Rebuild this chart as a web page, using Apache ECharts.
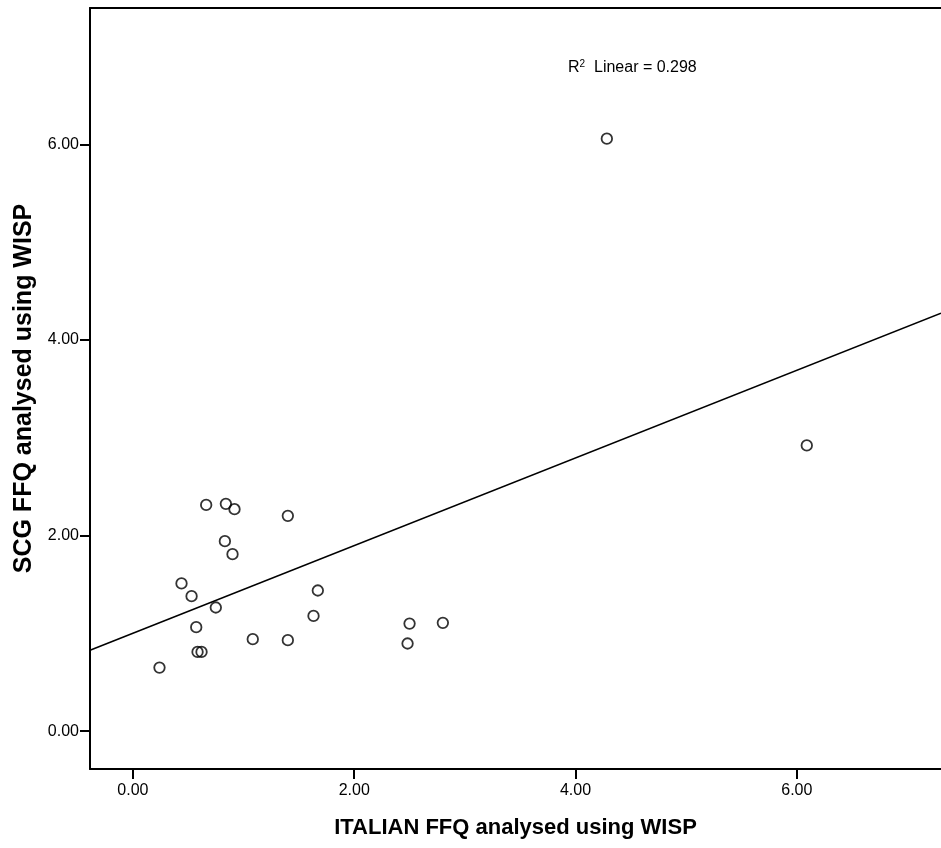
<!DOCTYPE html>
<html>
<head>
<meta charset="utf-8">
<script src="https://cdn.jsdelivr.net/npm/echarts@6/dist/echarts.min.js"></script>
<style>
html,body{margin:0;padding:0;background:#fff;}
#chart{width:941px;height:848px;}
</style>
</head>
<body>
<div id="chart"></div>
<script>
// Data
const italianFFQ = [0.662, 0.840, 0.918, 1.400, 0.831, 0.900, 0.439, 0.530, 0.749, 1.671, 1.632,
                    0.572, 1.083, 1.400, 0.584, 0.620, 0.240, 2.500, 2.801, 2.482, 4.283, 6.090];
const scgFFQ     = [2.314, 2.325, 2.270, 2.202, 1.943, 1.810, 1.511, 1.381, 1.265, 1.439, 1.179,
                    1.064, 0.941, 0.931, 0.811, 0.811, 0.651, 1.101, 1.108, 0.897, 6.058, 2.922];
const xTickValues = [0, 2, 4, 6];
const yTickValues = [0, 2, 4, 6];
const xTitle = 'ITALIAN FFQ analysed using WISP';
const yTitle = 'SCG FFQ analysed using WISP';
const r2Label = 'Linear = 0.298';

const X_MIN = -0.388, X_MAX = 7.303;
const Y_MIN = -0.386, Y_MAX = 7.394;

// least-squares fit
const n = italianFFQ.length;
const mx = italianFFQ.reduce((a, b) => a + b, 0) / n;
const my = scgFFQ.reduce((a, b) => a + b, 0) / n;
let sxy = 0, sxx = 0;
for (let i = 0; i < n; i++) {
  sxy += (italianFFQ[i] - mx) * (scgFFQ[i] - my);
  sxx += (italianFFQ[i] - mx) * (italianFFQ[i] - mx);
}
const slope = sxy / sxx;
const intercept = my - slope * mx;
const fitLine = [[X_MIN, intercept + slope * X_MIN], [X_MAX, intercept + slope * X_MAX]];

const points = italianFFQ.map((x, i) => [x, scgFFQ[i]]);
const FONT = '"Liberation Sans", Arial, Helvetica, sans-serif';

const chart = echarts.init(document.getElementById('chart'), null, {renderer: 'canvas'});
chart.setOption({
  backgroundColor: '#fff',
  animation: false,
  grid: {
    left: 90, right: 0, top: 8, bottom: 79, show: false
  },
  xAxis: [{
    type: 'value', min: X_MIN, max: X_MAX, position: 'bottom',
    name: xTitle, nameLocation: 'middle', nameGap: 48,
    nameTextStyle: {fontFamily: FONT, fontSize: 22, fontWeight: 'bold', color: '#000'},
    axisLine: {show: true, onZero: false, lineStyle: {color: '#000', width: 2}},
    axisTick: {show: true, length: 10, customValues: xTickValues, lineStyle: {color: '#000', width: 2}},
    axisLabel: {customValues: xTickValues, margin: 14, fontFamily: FONT, fontSize: 16, color: '#000',
      formatter: v => v.toFixed(2)},
    splitLine: {show: false}
  }, {
    type: 'value', min: X_MIN, max: X_MAX, position: 'top',
    axisLine: {show: true, onZero: false, lineStyle: {color: '#000', width: 2}},
    axisTick: {show: false}, axisLabel: {show: false}, splitLine: {show: false}
  }],
  yAxis: {
    type: 'value', min: Y_MIN, max: Y_MAX,
    name: yTitle, nameLocation: 'middle', nameGap: 50, nameRotate: 90,
    nameTextStyle: {fontFamily: FONT, fontSize: 25, fontWeight: 'bold', color: '#000'},
    axisLine: {show: true, onZero: false, lineStyle: {color: '#000', width: 2}},
    axisTick: {show: true, length: 10, customValues: yTickValues, lineStyle: {color: '#000', width: 2}},
    axisLabel: {customValues: yTickValues, margin: 11, fontFamily: FONT, fontSize: 16, color: '#000',
      formatter: v => v.toFixed(2)},
    splitLine: {show: false}
  },
  series: [
    {
      type: 'line', data: fitLine, showSymbol: false, silent: true, clip: true, z: 1,
      lineStyle: {color: '#000', width: 1.6}
    },
    {
      type: 'scatter', data: points, symbol: 'circle', symbolSize: 10.5, z: 2,
      itemStyle: {color: 'rgba(255,255,255,0)', borderColor: '#000', borderWidth: 1.8}
    }
  ],
  graphic: [{
    type: 'text', left: 568, top: 59,
    style: {
      text: '{r|R}{s|2}{t|  ' + r2Label + '}',
      rich: {
        r: {fontFamily: FONT, fontSize: 16, fill: '#000', lineHeight: 18},
        s: {fontFamily: FONT, fontSize: 10, fill: '#000', verticalAlign: 'top', lineHeight: 18},
        t: {fontFamily: FONT, fontSize: 16, fill: '#000', lineHeight: 18}
      }
    }
  }]
});
</script>
</body>
</html>
